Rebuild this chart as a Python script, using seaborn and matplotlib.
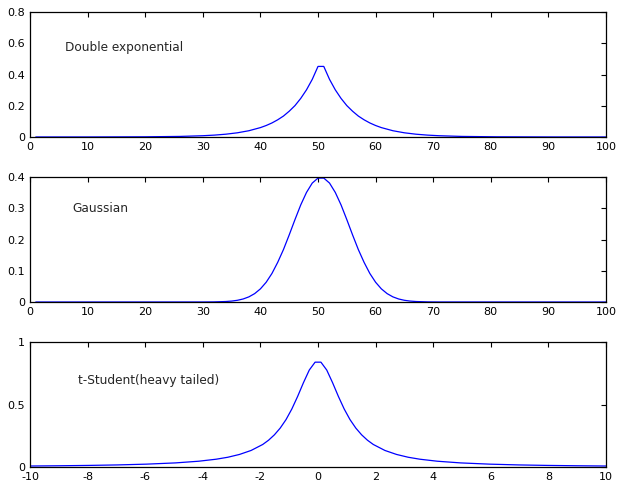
import matplotlib
matplotlib.use("Agg")
import matplotlib.pyplot as plt
import seaborn as sns
import pandas as pd

# Sample index (1..100) and density values for the double exponential curve
lap_idx = [1, 10, 20, 26, 30, 32, 34, 36, 38, 40, 41, 42, 43, 44, 45, 46, 47, 48, 49, 50,
           51, 52, 53, 54, 55, 56, 57, 58, 59, 60, 61, 63, 65, 67, 69, 71, 75, 81, 91, 100]
lap_val = [0.00002, 0.0001, 0.0011, 0.0035, 0.0080, 0.0119, 0.0178, 0.0267, 0.0400, 0.0600,
           0.0734, 0.0898, 0.110, 0.134, 0.165, 0.201, 0.247, 0.302, 0.369, 0.452,
           0.452, 0.369, 0.302, 0.247, 0.201, 0.165, 0.134, 0.110, 0.0898, 0.0734,
           0.0600, 0.0400, 0.0267, 0.0178, 0.0119, 0.0080, 0.0035, 0.0011, 0.0001, 0.00002]

# Sample index and density values for the Gaussian curve
gau_idx = [1, 30, 32, 34, 35, 36, 37, 38, 39, 40, 41, 42, 43, 44, 45, 46, 47, 48, 49, 50,
           51, 52, 53, 54, 55, 56, 57, 58, 59, 60, 61, 62, 63, 64, 65, 66, 67, 69, 71, 100]
gau_val = [0.0, 0.0001, 0.0004, 0.0016, 0.0030, 0.0055, 0.0097, 0.0165, 0.0269, 0.0421,
           0.0633, 0.0914, 0.127, 0.168, 0.215, 0.264, 0.311, 0.351, 0.381, 0.397,
           0.397, 0.381, 0.351, 0.311, 0.264, 0.215, 0.168, 0.127, 0.0914, 0.0633,
           0.0421, 0.0269, 0.0165, 0.0097, 0.0055, 0.0030, 0.0016, 0.0004, 0.0001, 0.0]

# Abscissa and density values for the heavy-tailed t-Student curve
t_x = [-10.0, -8.99, -7.98, -6.97, -5.96, -4.949, -4.141, -3.535, -3.131, -2.727, -2.323,
       -1.919, -1.717, -1.515, -1.313, -1.111, -0.909, -0.707, -0.505, -0.303, -0.101,
       0.101, 0.303, 0.505, 0.707, 0.909, 1.111, 1.313, 1.515, 1.717, 1.919,
       2.323, 2.727, 3.131, 3.535, 4.141, 4.949, 5.96, 6.97, 7.98, 8.99, 10.0]
t_val = [0.0084, 0.0104, 0.0131, 0.0171, 0.0233, 0.0333, 0.0468, 0.0629, 0.0786, 0.101, 0.133,
         0.181, 0.215, 0.258, 0.312, 0.380, 0.465, 0.566, 0.676, 0.777, 0.840,
         0.840, 0.777, 0.676, 0.566, 0.465, 0.380, 0.312, 0.258, 0.215, 0.181,
         0.133, 0.101, 0.0786, 0.0629, 0.0468, 0.0333, 0.0233, 0.0171, 0.0131, 0.0104, 0.0084]

titles = ["Double exponential", "Gaussian", "t-Student(heavy tailed)"]
x_ticks_idx = [0, 10, 20, 30, 40, 50, 60, 70, 80, 90, 100]
x_ticks_t = [-10, -8, -6, -4, -2, 0, 2, 4, 6, 8, 10]
y_ticks = [[0, 0.2, 0.4, 0.6, 0.8], [0, 0.1, 0.2, 0.3, 0.4], [0, 0.5, 1]]
y_labels = [["0", "0.2", "0.4", "0.6", "0.8"], ["0", "0.1", "0.2", "0.3", "0.4"], ["0", "0.5", "1"]]

sns.set_style("white")
plt.rcParams["font.family"] = ["DejaVu Sans"]
plt.rcParams["font.size"] = 8

fig = plt.figure(figsize=(6.19, 4.84), dpi=100)
bottoms = [0.717, 0.376, 0.035]
axes = [fig.add_axes([0.0485, b, 0.9305, 0.258]) for b in bottoms]

frames = [
    pd.DataFrame({"x": lap_idx, "y": lap_val}),
    pd.DataFrame({"x": gau_idx, "y": gau_val}),
    pd.DataFrame({"x": t_x, "y": t_val}),
]
xlims = [(0, 100), (0, 100), (-10, 10)]
ylims = [(0, 0.8), (0, 0.4), (0, 1)]
text_pos = [(6.1, 0.576), (7.3, 0.30), (-8.33, 0.696)]

for i, ax in enumerate(axes):
    sns.lineplot(data=frames[i], x="x", y="y", ax=ax, color="#0000ff", linewidth=0.9)
    ax.set_xlim(*xlims[i])
    ax.set_ylim(*ylims[i])
    ax.set_xticks(x_ticks_t if i == 2 else x_ticks_idx)
    ax.set_xticklabels([str(v) for v in (x_ticks_t if i == 2 else x_ticks_idx)])
    ax.set_yticks(y_ticks[i])
    ax.set_yticklabels(y_labels[i])
    ax.set_xlabel("")
    ax.set_ylabel("")
    ax.tick_params(direction="in", top=True, right=True, length=3.5, width=0.8,
                   labelsize=8, colors="black", pad=3.5)
    for s in ax.spines.values():
        s.set_visible(True)
        s.set_color("black")
        s.set_linewidth(0.9)
    ax.text(text_pos[i][0], text_pos[i][1], titles[i], fontsize=8.7, ha="left", va="center")

fig.savefig("out.png", dpi=100)
